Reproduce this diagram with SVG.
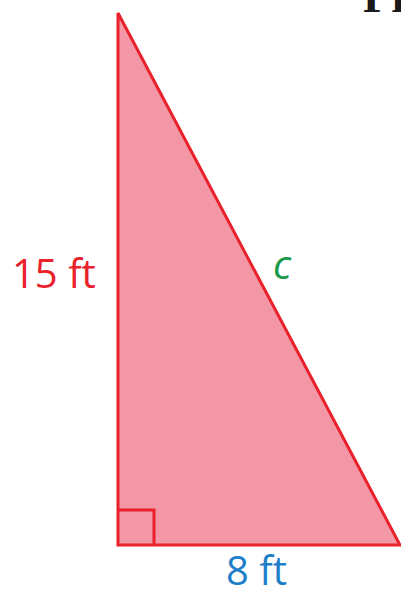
<svg xmlns="http://www.w3.org/2000/svg" width="401" height="590" viewBox="0 0 401 590">
<style>
.lbl{font-family:"Open Sans","Noto Sans",sans-serif;font-size:40px}
</style>
<rect width="401" height="590" fill="#ffffff"/>
<g id="title"><text x="363" y="12" font-family="Liberation Serif,serif" font-weight="bold" font-size="46" fill="#1a1a1a">Pr</text></g>
<g id="triangle">
<polygon points="118,13 118,545 400,545" fill="#f396a6" stroke="#e8212b" stroke-width="3" stroke-linejoin="miter"/>
<polyline points="118,510 154,510 154,545" fill="none" stroke="#e8212b" stroke-width="3"/>
</g>
<g id="labels">
<text class="lbl" x="12" y="288" fill="#e8212b">15 ft</text>
<text class="lbl" x="273" y="279" fill="#1b9a4a" font-style="italic">c</text>
<text class="lbl" x="226" y="585" fill="#1e7fc8">8 ft</text>
</g>
</svg>
